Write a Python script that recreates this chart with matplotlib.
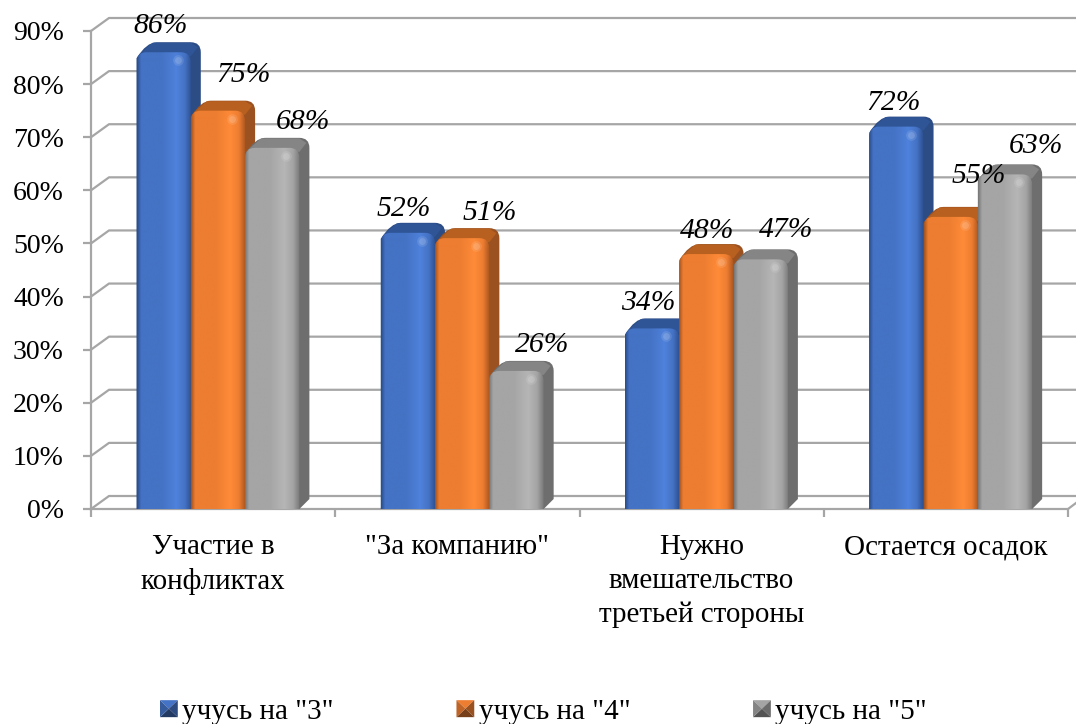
import numpy as np
import matplotlib
matplotlib.use('Agg')
import matplotlib.pyplot as plt
from matplotlib.path import Path
from matplotlib.patches import PathPatch, Polygon
from matplotlib.legend_handler import HandlerBase
from matplotlib.colors import to_rgb

plt.rcParams['font.family'] = ['Liberation Serif', 'DejaVu Serif']

categories = ['Участие в\nконфликтах', '"За компанию"', 'Нужно\nвмешательство\nтретьей стороны', 'Остается осадок']
series_names = ['учусь на "3"', 'учусь на "4"', 'учусь на "5"']
grade3 = [86, 52, 34, 72]
grade4 = [75, 51, 48, 55]
grade5 = [68, 26, 47, 63]
yticks = [0, 10, 20, 30, 40, 50, 60, 70, 80, 90]

# dark edge, base, light stripe, top face, side face
palette = [
    ['#2c4f8f', '#4472c4', '#4f82dc', '#2f5597', '#2b4c85'],
    ['#a9551f', '#ed7d31', '#ff8b38', '#b8601f', '#9c5220'],
    ['#7a7a7a', '#a5a5a5', '#b6b6b6', '#858585', '#6e6e6e'],
]
grid_col = '#a6a6a6'

# label shift from the bar's front top centre, in px
label_shift = [
    [(-3, 26), (26, 36), (31, 26)],
    [(-4, 24), (28, 25), (26, 26)],
    [(-4, 25), (1, 23), (25, 29)],
    [(-3, 24), (28, 41), (31, 28)],
]

W, H = 1076, 724
fig = plt.figure(figsize=(W / 100, H / 100), dpi=100)
left, right, bottom, top = 91, 1068, 509, 31
ax = fig.add_axes([left / W, 1 - bottom / H, (right - left) / W, (bottom - top) / H])
ax.set_xlim(0, 4)
ax.set_ylim(0, 90)
ax.set_facecolor('none')

px = 4 / (right - left)   # one pixel in x data units
py = 90 / (bottom - top)  # one pixel in y data units

# walls
wall_dx, wall_dy = 18 * px, 13 * py
for v in yticks:
    ax.plot([0, wall_dx, 4.05], [v, v + wall_dy, v + wall_dy], color=grid_col, lw=1.6, clip_on=False, zorder=1)
ax.plot([0, 4, 4 + 8 * px], [0, 0, 6 * py], color=grid_col, lw=1.6, clip_on=False, zorder=1)

for s in ['top', 'right', 'bottom']:
    ax.spines[s].set_visible(False)
ax.spines['left'].set_color(grid_col)
ax.spines['left'].set_linewidth(1.6)

ax.set_yticks(yticks)
ax.set_yticklabels(['%d%%' % v for v in yticks])
ax.set_xticks(range(5))
ax.set_xticklabels([])
ax.set_xticks(np.arange(4) + 0.5, categories, minor=True)
ax.tick_params(axis='y', length=6, width=1.6, color=grid_col, labelsize=20, pad=13.5)
ax.tick_params(axis='x', which='major', length=6, width=1.6, color=grid_col)
ax.tick_params(axis='x', which='minor', length=0, labelsize=20.9, pad=18)
for t in ax.get_xticklabels(minor=True):
    t.set_linespacing(1.38)


def front_path(x0, x1, h, rx, ry):
    v = [(x0, 0), (x0, h - ry), (x0, h), (x0 + rx, h), (x1 - rx, h), (x1, h), (x1, h - ry), (x1, 0), (x0, 0)]
    c = [Path.MOVETO, Path.LINETO, Path.CURVE3, Path.CURVE3, Path.LINETO, Path.CURVE3, Path.CURVE3, Path.LINETO, Path.CLOSEPOLY]
    return Path(v, c)


def hull_path(x0, x1, h, dx, dy, rx, ry):
    v = [(x1, 0), (x1 + dx, dy), (x1 + dx, h + dy - ry), (x1 + dx, h + dy), (x1 + dx - rx, h + dy),
         (x0 + dx + rx, h + dy), (x0 + dx, h + dy), (x0, h - ry * 0.6), (x0, 0), (x1, 0)]
    c = [Path.MOVETO, Path.LINETO, Path.LINETO, Path.CURVE3, Path.CURVE3, Path.LINETO, Path.CURVE3, Path.CURVE3, Path.LINETO, Path.CLOSEPOLY]
    return Path(v, c)


def face_image(cols, h):
    dark, base, light = [np.array(to_rgb(c)) for c in cols[:3]]
    stops = [0, 0.07, 0.45, 0.72, 0.88, 1]
    xs = np.linspace(0, 1, 54)
    row = np.stack([np.interp(xs, stops, [dark[i], base[i], base[i], light[i], base[i], dark[i]]) for i in range(3)], axis=1)
    n = max(int(h / py), 2)
    img = np.repeat(row[None, :, :], n, axis=0)
    # bevel along the top of the face
    dist = np.arange(n)
    fade = np.clip(1 - dist / 12.0, 0, 1)[:, None, None]
    img = img * (1 - 0.12 * fade) + np.array(to_rgb(cols[1])) * 0.12 * fade
    return img


bar_w = 54.3 * px
depth_x, depth_y = 10 * px, 10 * py
rad_x, rad_y = 10 * px, 10 * py
start = 45.5 * px
rows = [grade3, grade4, grade5]
z = 3
for c in range(len(categories)):
    for s in range(3):
        val = rows[s][c]
        x0 = c + start + s * bar_w
        x1 = x0 + bar_w
        cols = palette[s]
        ax.add_patch(PathPatch(hull_path(x0, x1, val, depth_x, depth_y, rad_x, rad_y), fc=cols[4], ec='none', zorder=z))
        # top face
        top_v = [(x0 + rad_x * 0.3, val - rad_y * 0.2), (x0 + depth_x + rad_x * 0.6, val + depth_y - 0.1),
                 (x1 + depth_x - rad_x, val + depth_y - 0.1), (x1 + depth_x - rad_x * 0.3, val + depth_y - rad_y * 0.5), (x1, val - rad_y * 0.4)]
        ax.add_patch(Polygon(top_v, closed=True, fc=cols[3], ec='none', zorder=z + 0.1))
        clip = front_path(x0, x1, val, rad_x, rad_y)
        im = ax.imshow(face_image(cols, val), extent=[x0, x1, 0, val], origin='upper', aspect='auto',
                       interpolation='bilinear', zorder=z + 0.2)
        im.set_clip_path(clip, ax.transData)
        ax.scatter([x1 - 13 * px], [val - 8 * py], s=60, color='white', alpha=0.1, lw=0, zorder=z + 0.3)
        ax.scatter([x1 - 13 * px], [val - 8 * py], s=24, color='white', alpha=0.14, lw=0, zorder=z + 0.3)
        z += 1

ax.set_xlim(0, 4)
ax.set_ylim(0, 90)

for c in range(len(categories)):
    for s in range(3):
        val = rows[s][c]
        xc = c + start + (s + 0.5) * bar_w
        sx, sy = label_shift[c][s]
        ax.annotate('%d%%' % val, (xc, val), xytext=(sx * 0.72, sy * 0.72), textcoords='offset points',
                    ha='center', va='center', fontsize=21.3, style='italic', zorder=100, annotation_clip=False)


class HandlerPyramid(HandlerBase):
    def create_artists(self, legend, orig, xd, yd, w, h, fontsize, trans):
        x0, y0 = -xd, -yd
        x1, y1 = x0 + w, y0 + h
        mx, my = x0 + w / 2, y0 + h / 2
        base = np.array(to_rgb(orig.get_facecolor()))
        shades = [1.0, 0.65, 0.5, 0.8]
        corners = [(x0, y1), (x1, y1), (x1, y0), (x0, y0)]
        out = []
        for i in range(4):
            col = np.clip(base * shades[i], 0, 1)
            out.append(Polygon([corners[i], corners[(i + 1) % 4], (mx, my)], closed=True, fc=col, ec='none', transform=trans))
        return out


handles = [Polygon([(0, 0), (1, 0), (1, 1)], fc=palette[i][1]) for i in range(3)]
fig.legend(handles, series_names, handler_map={Polygon: HandlerPyramid()}, ncol=3, frameon=False,
           loc='center left', bbox_to_anchor=(160 / W, 1 - 712 / H), fontsize=21,
           handlelength=0.61, handleheight=0.52, handletextpad=0.15, columnspacing=4.21, borderpad=0, borderaxespad=0)

fig.savefig('out.png', dpi=100)
